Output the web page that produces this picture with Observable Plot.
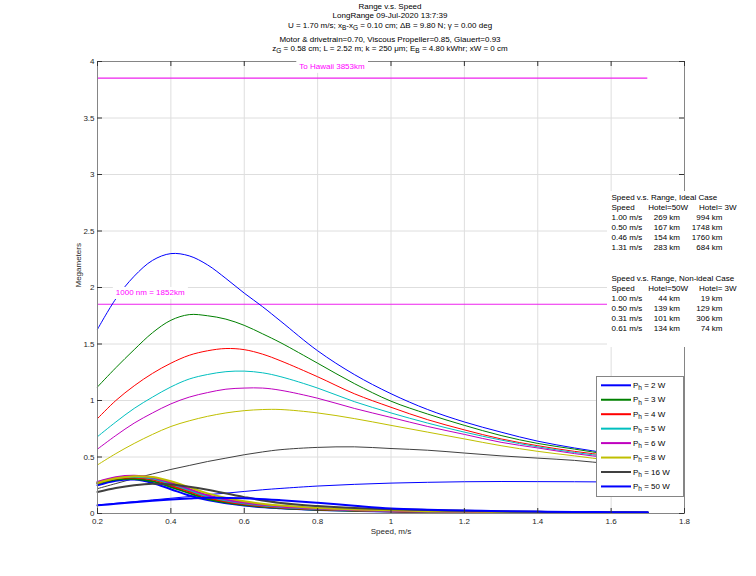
<!DOCTYPE html>
<html><head><meta charset="utf-8">
<script src="https://cdn.jsdelivr.net/npm/d3@7"></script>
<script src="https://cdn.jsdelivr.net/npm/@observablehq/plot@0.6"></script>
<style>body{margin:0;background:#fff} svg{display:block}</style>
</head><body><div id="chart"></div>
<script>
// ---------- data ----------
const speedIdeal = [0.2,0.25,0.3,0.35,0.4,0.45,0.5,0.55,0.6,0.65,0.7,0.8,0.9,1.0,1.1,1.2,1.3,1.4,1.5,1.6,1.7];
const ideal2W  = [1.63,1.90,2.10,2.24,2.30,2.28,2.20,2.08,1.95,1.83,1.70,1.44,1.23,1.06,0.92,0.81,0.72,0.64,0.58,0.53,0.48];
const ideal3W  = [1.12,1.29,1.45,1.60,1.71,1.76,1.75,1.72,1.665,1.59,1.51,1.33,1.15,0.994,0.88,0.78,0.69,0.62,0.57,0.52,0.48];
const ideal4W  = [0.84,1.00,1.13,1.24,1.33,1.40,1.44,1.46,1.45,1.41,1.35,1.21,1.06,0.94,0.83,0.74,0.66,0.60,0.55,0.51,0.47];
const ideal5W  = [0.68,0.81,0.93,1.03,1.12,1.19,1.23,1.255,1.26,1.245,1.21,1.11,0.99,0.89,0.80,0.72,0.65,0.59,0.54,0.50,0.46];
const ideal6W  = [0.57,0.69,0.80,0.89,0.97,1.03,1.07,1.10,1.11,1.11,1.09,1.02,0.93,0.85,0.77,0.70,0.63,0.58,0.53,0.49,0.45];
const ideal8W  = [0.43,0.53,0.62,0.70,0.77,0.82,0.86,0.89,0.91,0.92,0.92,0.89,0.84,0.78,0.72,0.66,0.60,0.55,0.51,0.47,0.44];
const ideal16W = [0.22,0.265,0.31,0.35,0.39,0.425,0.46,0.49,0.52,0.545,0.565,0.585,0.59,0.575,0.56,0.535,0.51,0.49,0.47,0.44,0.42];
const ideal50W = [0.075,0.09,0.105,0.12,0.135,0.15,0.167,0.18,0.195,0.21,0.222,0.243,0.258,0.269,0.276,0.281,0.283,0.282,0.281,0.279,0.277];

const speedNonIdeal = [0.2,0.25,0.3,0.35,0.4,0.45,0.5,0.6,0.7,0.8,0.9,1.0,1.1,1.2,1.3,1.4,1.5,1.6,1.7];
const nonIdeal2W  = [0.25,0.29,0.30,0.27,0.215,0.16,0.12,0.07,0.046,0.032,0.024,0.018,0.014,0.011,0.009,0.007,0.006,0.005,0.004];
const nonIdeal3W  = [0.265,0.30,0.306,0.285,0.235,0.18,0.129,0.076,0.049,0.034,0.025,0.019,0.015,0.012,0.010,0.008,0.007,0.006,0.005];
const nonIdeal4W  = [0.27,0.31,0.318,0.30,0.25,0.195,0.142,0.083,0.054,0.038,0.028,0.021,0.016,0.013,0.010,0.008,0.007,0.006,0.005];
const nonIdeal5W  = [0.275,0.315,0.326,0.31,0.262,0.207,0.152,0.090,0.058,0.041,0.030,0.023,0.017,0.014,0.011,0.009,0.008,0.006,0.005];
const nonIdeal6W  = [0.28,0.32,0.333,0.318,0.272,0.218,0.162,0.097,0.062,0.044,0.032,0.025,0.019,0.015,0.012,0.010,0.008,0.007,0.006];
const nonIdeal8W  = [0.27,0.312,0.33,0.322,0.285,0.233,0.178,0.108,0.070,0.049,0.036,0.028,0.021,0.017,0.013,0.011,0.009,0.007,0.006];
const nonIdeal16W = [0.19,0.225,0.25,0.263,0.257,0.237,0.21,0.145,0.092,0.066,0.049,0.038,0.030,0.024,0.019,0.015,0.013,0.011,0.009];
const nonIdeal50W = [0.072,0.086,0.10,0.112,0.123,0.132,0.139,0.135,0.118,0.095,0.068,0.044,0.033,0.026,0.021,0.017,0.014,0.012,0.010];

const hotelW = [2,3,4,5,6,8,16,50];
const seriesColors = ["#0000ff","#008000","#ff0000","#00bfbf","#bf00bf","#bfbf00","#404040","#0000ff"];
const idealSeries = [ideal2W,ideal3W,ideal4W,ideal5W,ideal6W,ideal8W,ideal16W,ideal50W];
const nonIdealSeries = [nonIdeal2W,nonIdeal3W,nonIdeal4W,nonIdeal5W,nonIdeal6W,nonIdeal8W,nonIdeal16W,nonIdeal50W];

const refKm = [3853, 1852];
const refLabels = ["To Hawaii 3853km", "1000 nm = 1852km"];
const refLabelX = [0.75, 0.25];
const refLabelOffset = 0.1;

const xTicks = [0.2,0.4,0.6,0.8,1,1.2,1.4,1.6,1.8];
const yTicks = [0,0.5,1,1.5,2,2.5,3,3.5,4];

const titleLines = [
  "Range v.s. Speed",
  "LongRange 09-Jul-2020 13:7:39",
  "U = 1.70 m/s; x_{B}-x_{G} = 0.10 cm; \u0394B = 9.80 N; \u03b3 = 0.00 deg",
  "Motor & drivetrain=0.70, Viscous Propeller=0.85, Glauert=0.93",
  "z_{G} = 0.58 cm; L = 2.52 m; k = 250 \u03bcm; E_{B} = 4.80 kWhr; xW = 0 cm"
];
const tableHeader = ["Speed", "Hotel=50W", "Hotel= 3W"];
const idealTitle = "Speed v.s. Range, Ideal Case";
const idealSpeed = [1.00, 0.50, 0.46, 1.31];
const idealKm50 = [269, 167, 154, 283];
const idealKm3 = [994, 1748, 1760, 684];
const nonIdealTitle = "Speed v.s. Range, Non-ideal Case";
const nonIdealSpeed = [1.00, 0.50, 0.31, 0.61];
const nonIdealKm50 = [44, 139, 101, 134];
const nonIdealKm3 = [19, 129, 306, 74];

// ---------- chart ----------
const W = 756, H = 576;
const mL = 97, mR = 72, mT = 61, mB = 63;
const fw = W - mL - mR, fh = H - mT - mB;
const font = "'Liberation Sans', Arial, Helvetica, sans-serif";
const toRows = (xs, ys) => xs.map((x, i) => ({x, y: ys[i]}));
const lineStart = speedIdeal[0], lineEnd = speedIdeal[speedIdeal.length - 1];

const marks = [
  Plot.gridX(xTicks, {stroke: "#dedede", strokeOpacity: 1}),
  Plot.gridY(yTicks, {stroke: "#dedede", strokeOpacity: 1}),
  Plot.ruleY(refKm.map(k => k / 1000), {y: d => d, x1: lineStart, x2: lineEnd, stroke: "#ee22ee", strokeWidth: 1.1}),
  ...idealSeries.map((ys, i) => Plot.line(toRows(speedIdeal, ys), {x: "x", y: "y", stroke: seriesColors[i], strokeWidth: 1, curve: "catmull-rom"})),
  ...nonIdealSeries.map((ys, i) => Plot.line(toRows(speedNonIdeal, ys), {x: "x", y: "y", stroke: seriesColors[i], strokeWidth: 2, curve: "catmull-rom"})),
  Plot.frame({stroke: "#858585"}),
  Plot.tickX(xTicks, {x: d => d, insetTop: fh - 5, stroke: "#333"}),
  Plot.tickX(xTicks, {x: d => d, insetBottom: fh - 5, stroke: "#333"}),
  Plot.tickY(yTicks, {y: d => d, insetRight: fw - 5, stroke: "#333"}),
  Plot.tickY(yTicks, {y: d => d, insetLeft: fw - 5, stroke: "#333"}),
  Plot.axisX(xTicks, {tickSize: 0, tickPadding: 5, tickFormat: d => String(d), label: null, fill: "#262626"}),
  Plot.axisY(yTicks, {tickSize: 0, tickPadding: 3, tickFormat: d => String(d), label: null, fill: "#262626"}),
  Plot.text(["Speed, m/s"], {frameAnchor: "bottom", dy: 20.5, fill: "#262626"}),
  Plot.text(["Megameters"], {frameAnchor: "left", dx: -19, rotate: -90, fill: "#262626"}),
  Plot.text(refLabels.map((t, i) => ({t, x: refLabelX[i], y: refKm[i] / 1000 + refLabelOffset})),
    {x: "x", y: "y", text: "t", textAnchor: "start", fill: "#ff00ff", className: "bgtext"})
];

const svg = Plot.plot({
  width: W, height: H,
  marginLeft: mL, marginRight: mR, marginTop: mT, marginBottom: mB,
  x: {domain: [0.2, 1.8]},
  y: {domain: [0, 4]},
  style: {fontFamily: font, fontSize: "8px", background: "#fff", color: "#262626"},
  marks
});
document.getElementById("chart").append(svg);

// white background boxes behind reference labels
svg.querySelectorAll(".bgtext text").forEach(t => {
  const b = t.getBBox();
  const r = document.createElementNS("http://www.w3.org/2000/svg", "rect");
  r.setAttribute("x", b.x - 3); r.setAttribute("y", b.y - 1.5);
  r.setAttribute("width", b.width + 6); r.setAttribute("height", b.height + 3);
  r.setAttribute("fill", "#fff");
  if (t.getAttribute("transform")) r.setAttribute("transform", t.getAttribute("transform"));
  t.parentNode.insertBefore(r, t);
});

const root = d3.select(svg);
function rich(sel, str) {
  const parts = str.split(/(_\{[^}]*\})/).filter(p => p.length);
  let sub = false;
  parts.forEach(p => {
    if (p.startsWith("_{")) {
      sel.append("tspan").attr("dy", 2.2).attr("font-size", "6.5px").text(p.slice(2, -1));
      sub = true;
    } else {
      const ts = sel.append("tspan").text(p);
      if (sub) { ts.attr("dy", -2.2); sub = false; }
    }
  });
}

// titles
const titleG = root.append("g").attr("font-family", font).attr("font-size", "8px").attr("fill", "#000").attr("text-anchor", "middle");
const titleBase = [8.6, 18, 28, 41.7, 51];
titleLines.forEach((s, i) => rich(titleG.append("text").attr("x", 390).attr("y", titleBase[i]).attr("text-anchor", "middle"), s));

// tables (white box)
const tg = root.append("g").attr("font-family", font).attr("font-size", "8px").attr("fill", "#000").attr("text-anchor", "start");
tg.append("rect").attr("x", 607).attr("y", 191).attr("width", 146).attr("height", 156).attr("fill", "#fff");
function table(y0, title, sp, a, b) {
  const step = 10.1;
  const t = (x, y, s, anchor = "start") => tg.append("text").attr("x", x).attr("y", y).attr("text-anchor", anchor).text(s);
  t(611.5, y0, title);
  t(611.5, y0 + step, tableHeader[0]);
  t(648.3, y0 + step, tableHeader[1]);
  t(699, y0 + step, tableHeader[2]);
  sp.forEach((s, i) => {
    const y = y0 + step * (i + 2);
    t(611.5, y, `${s.toFixed(2)} m/s`);
    t(680, y, `${a[i]} km`, "end");
    t(722.5, y, `${b[i]} km`, "end");
  });
}
table(199.8, idealTitle, idealSpeed, idealKm50, idealKm3);
table(280.8, nonIdealTitle, nonIdealSpeed, nonIdealKm50, nonIdealKm3);

// legend
const lg = root.append("g").attr("font-family", font).attr("font-size", "8px").attr("fill", "#000").attr("text-anchor", "start");
lg.append("rect").attr("x", 596.5).attr("y", 376.5).attr("width", 87).attr("height", 120).attr("fill", "#fff").attr("stroke", "#858585");
hotelW.forEach((w, i) => {
  const y = 385.3 + i * 14.45;
  lg.append("line").attr("x1", 601).attr("x2", 631).attr("y1", y).attr("y2", y).attr("stroke", seriesColors[i]).attr("stroke-width", 2);
  rich(lg.append("text").attr("x", 633).attr("y", y + 2.6).attr("text-anchor", "start"), `P_{h} = ${w} W`);
});
</script></body></html>
